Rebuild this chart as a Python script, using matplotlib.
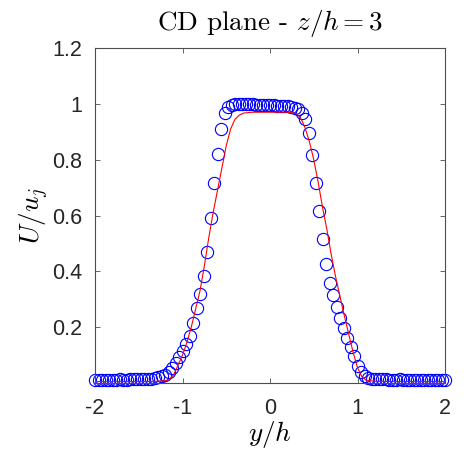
import matplotlib
matplotlib.use("Agg")
import matplotlib.pyplot as plt

plt.rcParams['mathtext.fontset'] = 'cm'

# measured profile (circles), y/h grid step 0.04
y_h = [-2.00, -1.96, -1.92, -1.88, -1.84, -1.80, -1.76, -1.72, -1.68, -1.64,
       -1.60, -1.56, -1.52, -1.48, -1.44, -1.40, -1.36, -1.32, -1.28, -1.24,
       -1.20, -1.16, -1.12, -1.08, -1.04, -1.00, -0.96, -0.92, -0.88, -0.84,
       -0.80, -0.76, -0.72, -0.68, -0.64, -0.60, -0.56, -0.52, -0.48, -0.44,
       -0.40, -0.36, -0.32, -0.28, -0.24, -0.20, -0.16, -0.12, -0.08, -0.04,
       0.00, 0.04, 0.08, 0.12, 0.16, 0.20, 0.24, 0.28, 0.32, 0.36,
       0.40, 0.44, 0.48, 0.52, 0.56, 0.60, 0.64, 0.68, 0.72, 0.76,
       0.80, 0.84, 0.88, 0.92, 0.96, 1.00, 1.04, 1.08, 1.12, 1.16,
       1.20, 1.24, 1.28, 1.32, 1.36, 1.40, 1.44, 1.48, 1.52, 1.56,
       1.60, 1.64, 1.68, 1.72, 1.76, 1.80, 1.84, 1.88, 1.92, 1.96, 2.00]
U_meas = [0.010, 0.011, 0.012, 0.012, 0.011, 0.012, 0.012, 0.013, 0.012, 0.012,
          0.013, 0.013, 0.013, 0.014, 0.014, 0.015, 0.016, 0.018, 0.020, 0.024,
          0.030, 0.040, 0.055, 0.072, 0.092, 0.115, 0.140, 0.168, 0.215, 0.268,
          0.320, 0.385, 0.470, 0.590, 0.715, 0.820, 0.910, 0.968, 0.988, 0.995,
          0.998, 0.998, 0.999, 0.999, 0.998, 0.998, 0.997, 0.997, 0.996, 0.996,
          0.995, 0.995, 0.994, 0.993, 0.992, 0.991, 0.989, 0.986, 0.980, 0.968,
          0.945, 0.895, 0.815, 0.715, 0.615, 0.515, 0.425, 0.358, 0.315, 0.272,
          0.232, 0.196, 0.162, 0.130, 0.095, 0.060, 0.038, 0.025, 0.019, 0.016,
          0.014, 0.013, 0.013, 0.013, 0.012, 0.012, 0.012, 0.013, 0.012, 0.012,
          0.012, 0.011, 0.012, 0.012, 0.011, 0.011, 0.011, 0.010, 0.010, 0.010, 0.010]

# simulation profile (red line)
y_sim = [-2.00, -1.50, -1.30, -1.20, -1.15, -1.10, -1.05, -1.00, -0.95, -0.90,
         -0.85, -0.80, -0.75, -0.70, -0.65, -0.60, -0.55, -0.50, -0.45, -0.40,
         -0.35, -0.30, -0.20, 0.00, 0.20, 0.30, 0.35, 0.40, 0.45, 0.50,
         0.55, 0.60, 0.65, 0.70, 0.75, 0.80, 0.85, 0.90, 0.95, 1.00,
         1.05, 1.10, 1.20, 1.50, 2.00]
U_sim = [0.005, 0.005, 0.006, 0.008, 0.012, 0.030, 0.065, 0.100, 0.145, 0.200,
         0.265, 0.330, 0.420, 0.520, 0.610, 0.690, 0.770, 0.850, 0.910, 0.945,
         0.960, 0.967, 0.970, 0.970, 0.970, 0.965, 0.950, 0.915, 0.865, 0.800,
         0.720, 0.630, 0.550, 0.460, 0.380, 0.310, 0.240, 0.175, 0.110, 0.055,
         0.022, 0.010, 0.006, 0.005, 0.005]

xticks = [-2, -1, 0, 1, 2]
xticklabels = ['-2', '-1', '0', '1', '2']
yticks = [0.2, 0.4, 0.6, 0.8, 1.0, 1.2]
yticklabels = ['0.2', '0.4', '0.6', '0.8', '1', '1.2']

fig = plt.figure(figsize=(4.67, 4.54), dpi=100)
ax = fig.add_axes([95/467, 1-383/454, 350/467, 335/454])

ax.plot(y_h, U_meas, 'o', mfc='none', mec=(0, 0, 1), ms=8.8, mew=0.8, clip_on=False)
ax.plot(y_sim, U_sim, '-', color=(1, 0, 0), lw=0.8)

ax.set_xlim(-2, 2)
ax.set_ylim(0, 1.2)
ax.set_xticks(xticks)
ax.set_xticklabels(xticklabels)
ax.set_yticks(yticks)
ax.set_yticklabels(yticklabels)

axcol = '0.3'
for s in ax.spines.values():
    s.set_color(axcol)
    s.set_linewidth(0.8)
ax.tick_params(direction='in', length=3.5, width=0.6, color=axcol,
               top=True, right=True, labelsize=15.5, labelcolor='0.15')
ax.tick_params(axis='x', pad=11)
ax.tick_params(axis='y', pad=9)
for lab in ax.get_xticklabels() + ax.get_yticklabels():
    lab.set_family('Liberation Sans')

ax.set_title(r'CD plane - $z/h=3$', fontsize=19.5, family='cmr10', pad=13)
ax.set_xlabel(r'$y/h$', fontsize=19.5, labelpad=0)
ax.set_ylabel(r'$U/u_j$', fontsize=19.5, labelpad=1)

fig.savefig('out.png', dpi=100)
